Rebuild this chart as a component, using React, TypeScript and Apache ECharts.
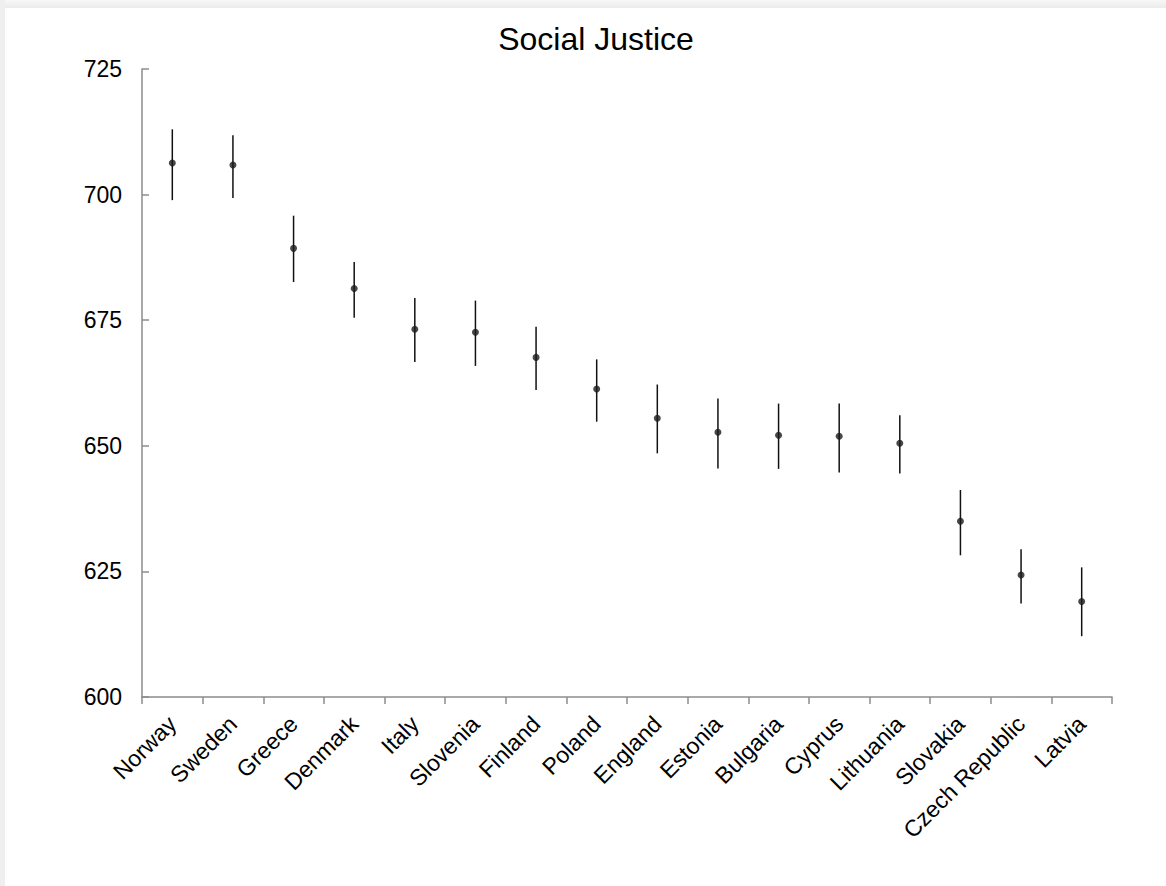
import React, { useEffect, useRef } from "react";
import * as echarts from "echarts";

const countries = [
  "Norway", "Sweden", "Greece", "Denmark", "Italy", "Slovenia", "Finland", "Poland",
  "England", "Estonia", "Bulgaria", "Cyprus", "Lithuania", "Slovakia", "Czech Republic", "Latvia",
];
const means = [706.3, 705.9, 689.3, 681.3, 673.2, 672.6, 667.6, 661.3, 655.5, 652.7, 652.1, 651.9, 650.5, 635.0, 624.3, 619.0];
const upper = [713.0, 711.8, 695.8, 686.6, 679.4, 678.9, 673.7, 667.2, 662.2, 659.4, 658.4, 658.4, 656.1, 641.2, 629.4, 625.8];
const lower = [698.9, 699.3, 682.6, 675.5, 666.7, 665.9, 661.1, 654.8, 648.5, 645.5, 645.4, 644.7, 644.5, 628.2, 618.6, 612.1];
const yTicks = [600, 625, 650, 675, 700, 725];

const FONT = "'Liberation Sans', Arial, sans-serif";

export default function App() {
  const ref = useRef<HTMLDivElement>(null);
  useEffect(() => {
    document.body.style.margin = "0";
    const chart = echarts.init(ref.current!, undefined, { renderer: "svg" });
    const errData = countries.map((_, i) => [i, lower[i], upper[i]]);
    chart.setOption({
      animation: false,
      backgroundColor: "#ffffff",
      textStyle: { fontFamily: FONT },
      title: {
        text: "Social Justice",
        left: 591,
        top: 18,
        textAlign: "center",
        textStyle: { fontFamily: FONT, fontSize: 32, fontWeight: "normal", color: "#000" },
      },
      graphic: [
        {
          type: "rect",
          shape: { x: 0, y: 0, width: 1166, height: 8 },
          style: {
            fill: new echarts.graphic.LinearGradient(0, 0, 0, 1, [
              { offset: 0, color: "#f7f7f7" },
              { offset: 1, color: "#ebebeb" },
            ]),
          },
          silent: true,
        },
        {
          type: "rect",
          shape: { x: 0, y: 0, width: 5, height: 886 },
          style: { fill: "#efefef" },
          silent: true,
        },
      ],
      grid: { left: 142, right: 54, top: 69, bottom: 189, containLabel: false },
      xAxis: {
        type: "category",
        data: countries,
        boundaryGap: true,
        axisLine: { lineStyle: { color: "#8c8c8c", width: 1.5 } },
        axisTick: { show: true, alignWithLabel: false, length: 7, lineStyle: { color: "#8c8c8c", width: 1.5 } },
        axisLabel: { rotate: 45, fontSize: 23, color: "#000", fontFamily: FONT, margin: 23, interval: 0 },
        splitLine: { show: false },
      },
      yAxis: {
        type: "value",
        min: yTicks[0],
        max: yTicks[yTicks.length - 1],
        interval: 25,
        axisLine: { show: true, lineStyle: { color: "#8c8c8c", width: 1.5 } },
        axisTick: { show: true, inside: true, length: 7, lineStyle: { color: "#8c8c8c", width: 1.5 } },
        axisLabel: { fontSize: 23, color: "#000", fontFamily: FONT, margin: 20 },
        splitLine: { show: false },
      },
      series: [
        {
          type: "custom",
          data: errData,
          renderItem: (params: any, api: any) => {
            const x = api.value(0);
            const lo = api.coord([x, api.value(1)]);
            const hi = api.coord([x, api.value(2)]);
            return {
              type: "line",
              shape: { x1: lo[0], y1: lo[1], x2: hi[0], y2: hi[1] },
              style: { stroke: "#111", lineWidth: 1.5 },
            };
          },
          z: 2,
        },
        {
          type: "scatter",
          data: means,
          symbol: "circle",
          symbolSize: 7,
          itemStyle: { color: "#1a1a1a" },
          z: 3,
        },
      ],
    });
    return () => chart.dispose();
  }, []);
  return <div ref={ref} style={{ position: "absolute", left: 0, top: 0, width: 1166, height: 886 }} />;
}
